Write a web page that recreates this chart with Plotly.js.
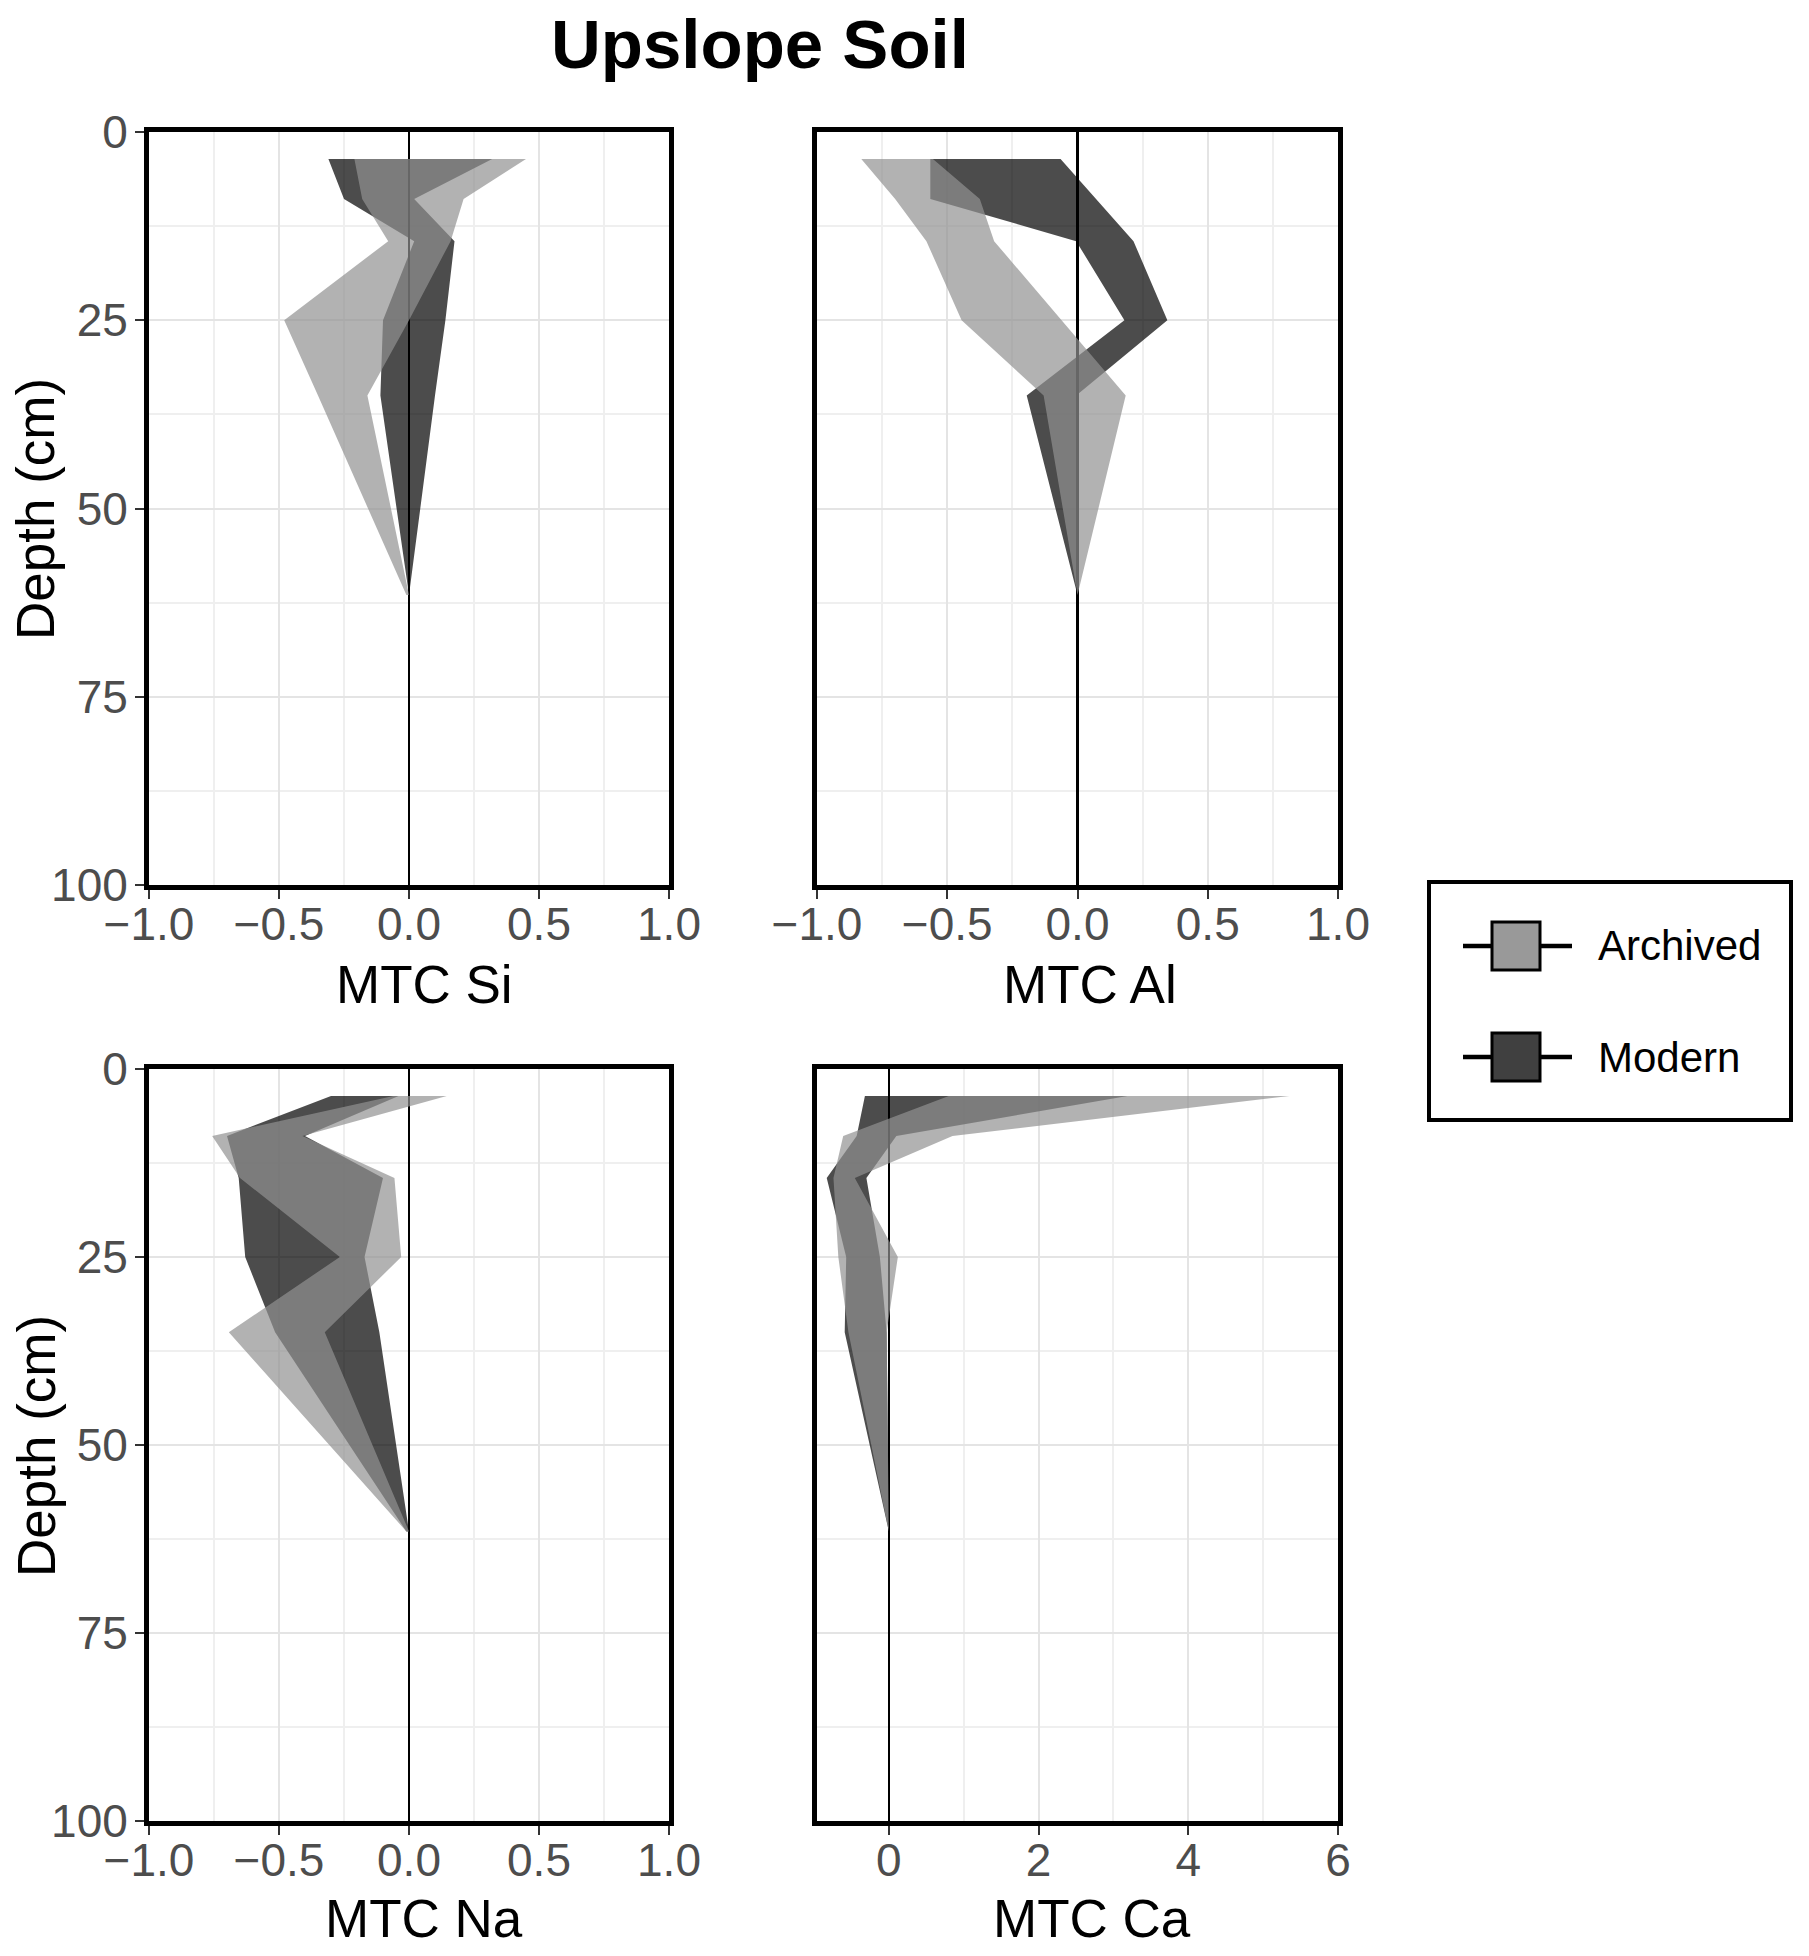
<!DOCTYPE html>
<html>
<head>
<meta charset="utf-8">
<script src="https://cdn.plot.ly/plotly-3.0.1.min.js"></script>
<style>html,body{margin:0;padding:0;background:#fff;}#chart{width:1809px;height:1956px;}</style>
</head>
<body>
<div id="chart"></div>
<script>
// ---------------- data ----------------
const depth = [3.6, 8.9, 14.5, 25, 35, 61.5];
const seriesNames = ["Archived", "Modern"];
const panelTitles = ["MTC Si", "MTC Al", "MTC Na", "MTC Ca"];

const siArchivedMin = [-0.21, -0.18, -0.08, -0.48, -0.35, -0.01];
const siArchivedMax = [0.45, 0.21, 0.16, 0.00, -0.16, 0.00];
const siModernMin   = [-0.31, -0.25, 0.02, -0.10, -0.11, 0.00];
const siModernMax   = [0.32, 0.02, 0.175, 0.14, 0.10, 0.00];

const alArchivedMin = [-0.83, -0.70, -0.58, -0.445, -0.13, 0.00];
const alArchivedMax = [-0.555, -0.375, -0.32, -0.06, 0.185, 0.00];
const alModernMin   = [-0.565, -0.565, -0.005, 0.18, -0.195, 0.00];
const alModernMax   = [-0.065, 0.07, 0.215, 0.345, -0.005, 0.00];

const naArchivedMin = [-0.06, -0.757, -0.65, -0.266, -0.693, -0.01];
const naArchivedMax = [0.145, -0.41, -0.056, -0.03, -0.324, 0.00];
const naModernMin   = [-0.30, -0.70, -0.655, -0.63, -0.515, -0.01];
const naModernMax   = [-0.04, -0.40, -0.10, -0.171, -0.114, 0.00];

const caArchivedMin = [0.80, -0.61, -0.74, -0.675, -0.54, 0.00];
const caArchivedMax = [5.35, 0.85, -0.455, 0.12, -0.03, 0.00];
const caModernMin   = [-0.32, -0.43, -0.83, -0.57, -0.59, 0.00];
const caModernMax   = [3.19, 0.10, -0.30, -0.12, -0.03, 0.00];

const depthTicks = [0, 25, 50, 75, 100];
const mtcTicks = [-1.0, -0.5, 0.0, 0.5, 1.0];
const caTicks = [0, 2, 4, 6];

// ---------------- drawing ----------------
const W = 1809, H = 1956;
const fx = p => p / W;
const fy = p => 1 - p / H;

const colArchived = "rgba(146,146,146,0.7)";
const colModern = "rgba(0,0,0,0.7)";

function ribbon(xmin, xmax, xa, ya, color, name) {
  const xs = xmin.concat(xmax.slice().reverse());
  const ys = depth.concat(depth.slice().reverse());
  return {
    type: "scatter", mode: "lines", x: xs, y: ys, xaxis: xa, yaxis: ya,
    fill: "toself", fillcolor: color, line: {width: 0, color: "rgba(0,0,0,0)"},
    name: name, showlegend: false, hoverinfo: "skip"
  };
}

const traces = [
  ribbon(siModernMin, siModernMax, "x", "y", colModern, seriesNames[1]),
  ribbon(siArchivedMin, siArchivedMax, "x", "y", colArchived, seriesNames[0]),
  ribbon(alModernMin, alModernMax, "x2", "y2", colModern, seriesNames[1]),
  ribbon(alArchivedMin, alArchivedMax, "x2", "y2", colArchived, seriesNames[0]),
  ribbon(naModernMin, naModernMax, "x3", "y3", colModern, seriesNames[1]),
  ribbon(naArchivedMin, naArchivedMax, "x3", "y3", colArchived, seriesNames[0]),
  ribbon(caModernMin, caModernMax, "x4", "y4", colModern, seriesNames[1]),
  ribbon(caArchivedMin, caArchivedMax, "x4", "y4", colArchived, seriesNames[0])
];

const FONT = "Liberation Sans, Arial, Helvetica, sans-serif";
const tickFont = {family: FONT, size: 46, color: "#4d4d4d"};

const colL = [fx(149), fx(669)];
const colR = [fx(817), fx(1338)];
const rowT = [fy(885), fy(132)];
const rowB = [fy(1821), fy(1069)];

function xAxis(domain, anchor, range, vals, fmt, minorDt) {
  return {
    domain: domain, anchor: anchor, range: range, autorange: false,
    tickmode: "array", tickvals: vals, ticktext: vals.map(fmt),
    showline: true, mirror: true, linewidth: 5, linecolor: "#000",
    ticks: "outside", ticklen: 9, tickwidth: 2, tickcolor: "#333",
    ticklabelstandoff: -14,
    tickfont: tickFont,
    showgrid: true, gridcolor: "#e4e4e4", gridwidth: 2,
    minor: {dtick: minorDt, tick0: 0, showgrid: true, gridcolor: "#efefef", gridwidth: 2, ticks: ""},
    zeroline: true, zerolinecolor: "#000", zerolinewidth: 2.5,
    fixedrange: true
  };
}
function yAxis(domain, anchor, showLabels) {
  return {
    domain: domain, anchor: anchor, range: [100, 0], autorange: false,
    tickmode: "array", tickvals: depthTicks, ticktext: depthTicks.map(String),
    showticklabels: showLabels, ticks: showLabels ? "outside" : "",
    ticklen: 9, tickwidth: 2, tickcolor: "#333", ticklabelstandoff: -2,
    tickfont: tickFont,
    showline: true, mirror: true, linewidth: 5, linecolor: "#000",
    showgrid: true, gridcolor: "#e4e4e4", gridwidth: 2,
    minor: {dtick: 12.5, tick0: 0, showgrid: true, gridcolor: "#efefef", gridwidth: 2, ticks: ""},
    zeroline: false, fixedrange: true
  };
}
const fmt1 = v => v.toFixed(1).replace("-", "\u2212");
const fmt0 = v => String(v);

const titleFont = {family: FONT, size: 53, color: "#000"};
const annotations = [
  {text: "Upslope Soil", x: fx(760), y: fy(45), xref: "paper", yref: "paper", xanchor: "center", yanchor: "middle",
   showarrow: false, font: {family: FONT, size: 69, color: "#000", weight: 700}},
  {text: panelTitles[0], x: fx(424), y: fy(984), xref: "paper", yref: "paper", xanchor: "center", yanchor: "middle", showarrow: false, font: titleFont},
  {text: panelTitles[1], x: fx(1090), y: fy(984), xref: "paper", yref: "paper", xanchor: "center", yanchor: "middle", showarrow: false, font: titleFont},
  {text: panelTitles[2], x: fx(424), y: fy(1918), xref: "paper", yref: "paper", xanchor: "center", yanchor: "middle", showarrow: false, font: titleFont},
  {text: panelTitles[3], x: fx(1092), y: fy(1918), xref: "paper", yref: "paper", xanchor: "center", yanchor: "middle", showarrow: false, font: titleFont},
  {text: "Depth (cm)", x: fx(36), y: fy(509), xref: "paper", yref: "paper", xanchor: "center", yanchor: "middle", textangle: -90, showarrow: false, font: titleFont},
  {text: "Depth (cm)", x: fx(36), y: fy(1446), xref: "paper", yref: "paper", xanchor: "center", yanchor: "middle", textangle: -90, showarrow: false, font: titleFont},
  {text: seriesNames[0], x: fx(1596), y: fy(946), xref: "paper", yref: "paper", xanchor: "left", yanchor: "middle", showarrow: false, font: {family: FONT, size: 42, color: "#000"}},
  {text: seriesNames[1], x: fx(1596), y: fy(1057), xref: "paper", yref: "paper", xanchor: "left", yanchor: "middle", showarrow: false, font: {family: FONT, size: 42, color: "#000"}}
];

const shapes = [
  {type: "rect", xref: "paper", yref: "paper", x0: fx(1429), x1: fx(1791), y0: fy(882), y1: fy(1120),
   line: {color: "#000", width: 4}, fillcolor: "#fff"},
  {type: "line", xref: "paper", yref: "paper", x0: fx(1463), x1: fx(1572), y0: fy(946), y1: fy(946), line: {color: "#000", width: 4.5}},
  {type: "rect", xref: "paper", yref: "paper", x0: fx(1492), x1: fx(1540), y0: fy(922), y1: fy(970), line: {color: "#000", width: 3}, fillcolor: "#999999"},
  {type: "line", xref: "paper", yref: "paper", x0: fx(1463), x1: fx(1572), y0: fy(1057), y1: fy(1057), line: {color: "#000", width: 4.5}},
  {type: "rect", xref: "paper", yref: "paper", x0: fx(1492), x1: fx(1540), y0: fy(1033), y1: fy(1081), line: {color: "#000", width: 3}, fillcolor: "#404040"}
];

const layout = {
  width: W, height: H, margin: {l: 0, r: 0, t: 0, b: 0},
  paper_bgcolor: "#fff", plot_bgcolor: "#fff", showlegend: false,
  xaxis:  xAxis(colL, "y",  [-1, 1], mtcTicks, fmt1, 0.25),
  xaxis2: xAxis(colR, "y2", [-1, 1], mtcTicks, fmt1, 0.25),
  xaxis3: xAxis(colL, "y3", [-1, 1], mtcTicks, fmt1, 0.25),
  xaxis4: xAxis(colR, "y4", [-0.96, 6], caTicks, fmt0, 1),
  yaxis:  yAxis(rowT, "x", true),
  yaxis2: yAxis(rowT, "x2", false),
  yaxis3: yAxis(rowB, "x3", true),
  yaxis4: yAxis(rowB, "x4", false),
  annotations: annotations,
  shapes: shapes
};

Plotly.newPlot("chart", traces, layout, {staticPlot: true, displayModeBar: false});
</script>
</body>
</html>
